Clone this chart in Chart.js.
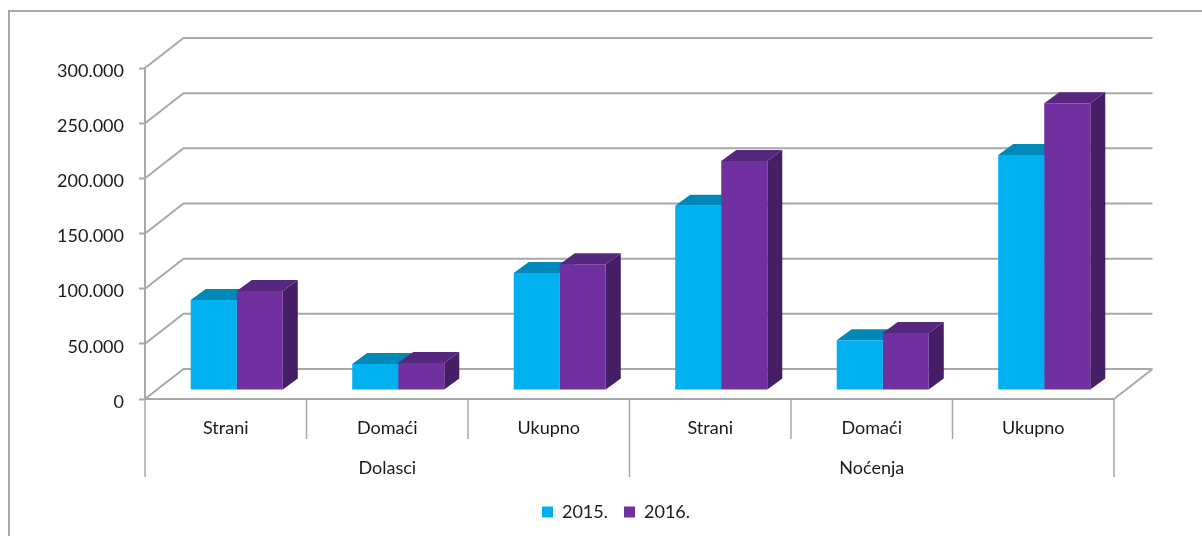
<!DOCTYPE html>
<html>
<head>
<meta charset="utf-8">
<title>Dolasci i noćenja</title>
<script src="https://cdn.jsdelivr.net/npm/chart.js@4"></script>
<style>
  body { margin: 0; background: #fff; }
  canvas { display: block; }
</style>
</head>
<body>
<canvas id="chart" width="1202" height="536"></canvas>
<script>
const categories = ["Strani", "Domaći", "Ukupno", "Strani", "Domaći", "Ukupno"];
const groups = ["Dolasci", "Noćenja"];
const groupBounds = [0, 3, 6];
const values2015 = [81500, 23500, 106000, 167000, 45000, 213000];
const values2016 = [89700, 24500, 114000, 207500, 51700, 260000];

const lineColor = "#a8a8a8";
const textColor = "#1a1a1a";
const fontFamily = "Lato, 'Open Sans', sans-serif";
const fontSize = 18;
const faces = [
  { top: "#0088b8", side: "#006a90" },
  { top: "#56277e", side: "#461e66" },
];

const line = (ctx, points) => {
  ctx.beginPath();
  points.forEach(([x, y], i) => (i ? ctx.lineTo(x, y) : ctx.moveTo(x, y)));
  ctx.stroke();
};

const framePlugin = {
  id: "frame",
  beforeDraw(chart) {
    const ctx = chart.ctx;
    ctx.save();
    ctx.strokeStyle = lineColor;
    ctx.lineWidth = 2;
    line(ctx, [[9, 536], [9, 11], [1202, 11]]);
    ctx.restore();
  },
};

// back wall, floor and the separators of the two-level category axis
const wallsPlugin = {
  id: "walls",
  beforeDatasetsDraw(chart) {
    const { ctx, chartArea, scales } = chart;
    const { left, right, bottom } = chartArea;
    const dx = 38.5;
    const dy = 30;

    ctx.save();
    ctx.strokeStyle = lineColor;
    ctx.lineWidth = 2;

    scales.y.ticks.forEach((tick) => {
      const y = scales.y.getPixelForValue(tick.value);
      line(ctx, [[left, y], [left + dx, y - dy], [right + dx, y - dy]]);
    });
    line(ctx, [[right, bottom], [right + dx, bottom - dy]]);

    ctx.lineWidth = 1.5;
    for (let i = 0; i <= categories.length; i++) {
      const x = scales.x.getPixelForValue(i - 0.5);
      const isGroup = groupBounds.includes(i);
      line(ctx, [[x, bottom], [x, bottom + (isGroup ? 78 : 40)]]);
    }
    ctx.restore();
  },
};

// the library's bars are moved into the depth of the floor; top and side faces
// go underneath them, so the 2016 front face hides the side of the 2015 bar
const barOffset = { x: 11, y: -9 };
const barDepth = { x: 15, y: 11 };

const depthPlugin = {
  id: "depth",
  beforeDatasetsDraw(chart) {
    const ctx = chart.ctx;
    const dx = barDepth.x;
    const dy = barDepth.y;

    ctx.save();
    ctx.translate(barOffset.x, barOffset.y);

    chart.data.datasets.forEach((dataset, index) => {
      chart.getDatasetMeta(index).data.forEach((bar) => {
        const x0 = bar.x - bar.width / 2;
        const x1 = bar.x + bar.width / 2;

        ctx.fillStyle = faces[index].side;
        ctx.beginPath();
        ctx.moveTo(x1, bar.base);
        ctx.lineTo(x1 + dx, bar.base - dy);
        ctx.lineTo(x1 + dx, bar.y - dy);
        ctx.lineTo(x1, bar.y);
        ctx.closePath();
        ctx.fill();

        ctx.fillStyle = faces[index].top;
        ctx.beginPath();
        ctx.moveTo(x0, bar.y);
        ctx.lineTo(x0 + dx, bar.y - dy);
        ctx.lineTo(x1 + dx, bar.y - dy);
        ctx.lineTo(x1, bar.y);
        ctx.closePath();
        ctx.fill();
      });
    });
    ctx.restore();
  },
  beforeDatasetDraw(chart) {
    chart.ctx.save();
    chart.ctx.translate(barOffset.x, barOffset.y);
  },
  afterDatasetDraw(chart) {
    chart.ctx.restore();
  },
  afterLayout(chart) {
    chart.legend.left += 59;
    chart.legend.right += 59;
  },
};

new Chart(document.getElementById("chart"), {
  type: "bar",
  data: {
    labels: categories,
    datasets: [
      { label: "2015.", data: values2015, backgroundColor: "#00b0f0", clip: false },
      { label: "2016.", data: values2016, backgroundColor: "#7030a0", clip: false },
    ],
  },
  options: {
    responsive: false,
    animation: false,
    categoryPercentage: 0.57,
    barPercentage: 1,
    layout: { padding: { top: 68, right: 88, bottom: 5, left: 0 } },
    scales: {
      y: {
        min: 0,
        max: 300000,
        afterFit: (scale) => { scale.width = 145; },
        ticks: {
          stepSize: 50000,
          padding: 15,
          labelOffset: 3,
          color: textColor,
          font: { family: fontFamily, size: fontSize },
          callback: (value) => String(value).replace(/\B(?=(\d{3})+$)/g, "."),
        },
        grid: { drawOnChartArea: false, tickLength: 6, tickColor: lineColor, tickWidth: 2 },
        border: { color: lineColor, width: 2 },
      },
      x: {
        afterFit: (scale) => { scale.height = 40; },
        ticks: {
          padding: 10,
          autoSkip: false,
          maxRotation: 0,
          color: textColor,
          font: { family: fontFamily, size: fontSize },
        },
        grid: { display: false },
        border: { color: lineColor, width: 2 },
      },
      x2: {
        type: "category",
        labels: groups,
        position: "bottom",
        offset: true,
        afterFit: (scale) => { scale.height = 48; },
        ticks: {
          padding: 10,
          maxRotation: 0,
          color: textColor,
          font: { family: fontFamily, size: fontSize },
        },
        grid: { display: false },
        border: { display: false },
      },
    },
    plugins: {
      legend: {
        position: "bottom",
        labels: {
          boxWidth: 11,
          boxHeight: 11,
          padding: 16,
          color: textColor,
          font: { family: fontFamily, size: fontSize },
        },
      },
      tooltip: { enabled: false },
    },
  },
  plugins: [framePlugin, wallsPlugin, depthPlugin],
});
</script>
</body>
</html>
